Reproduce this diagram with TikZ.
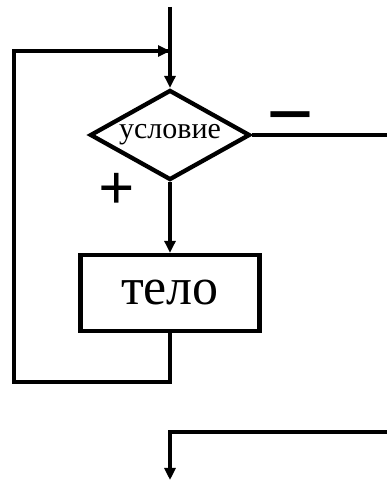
\documentclass[tikz,border=0pt]{standalone}
\usepackage{fontspec}
\setmainfont{Liberation Serif}
\usepackage{xcolor}
\usetikzlibrary{arrows.meta,positioning,shapes.geometric,calc}
\definecolor{fcedge}{RGB}{0,0,0}
\tikzset{
  fcbox/.style={
    draw=fcedge, line width=4.3pt, align=center, inner sep=0pt
  },
  cond/.style={fcbox, diamond, aspect=1.78, minimum width=160pt, minimum height=90pt,
    font=\fontsize{30}{32}\selectfont},
  body/.style={fcbox, rectangle, minimum width=179pt, minimum height=76pt,
    font=\fontsize{52}{56}\selectfont},
  line/.style={draw=fcedge, line width=4.3pt},
  arr/.style={line, -{Triangle[length=12pt,width=11pt]}},
  sign/.style={inner sep=0pt, text=fcedge, font=\bfseries}
}
\begin{document}
\begin{tikzpicture}[x=1pt,y=1pt]
  \useasboundingbox (0,0) rectangle (387,482);
  \node[cond] (cnd) at (170,347) {условие};
  \node[body] (tel) at (170,189) {тело};
  \coordinate (start) at (170,475);
  \coordinate (botR) at (170,100);
  \coordinate (botL) at (14,100);
  \coordinate (join) at (170,431);
  \coordinate (exitR) at (390,347);
  \coordinate (backR) at (390,50);
  \coordinate (backL) at (170,50);
  \coordinate (finish) at (170,2);
  \draw[arr] (start) -- (cnd.north);
  \draw[arr] (cnd.south) -- (tel.north);
  \draw[line] (tel.south) -- (botR) -- (botL) |- (join);
  \draw[arr] (botL |- join) -- (join);
  \draw[line] (cnd.east) -- (exitR);
  \draw[arr] (backR) -- (backL) -- (finish);
  \node[sign, anchor=base, font=\bfseries\fontsize{84}{88}\selectfont] (minus) at (290,339) {−};
  \node[sign, font=\bfseries\fontsize{64}{68}\selectfont] (plus) at (117,291) {+};
\end{tikzpicture}
\end{document}
